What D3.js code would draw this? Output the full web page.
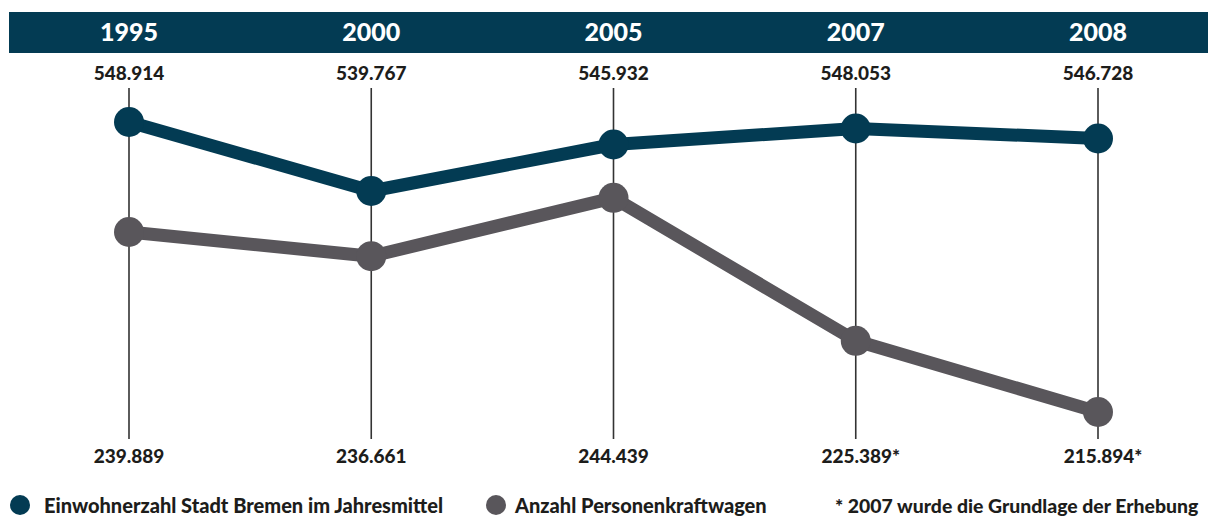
<!DOCTYPE html>
<html>
<head>
<meta charset="utf-8">
<script src="https://cdnjs.cloudflare.com/ajax/libs/d3/7.8.5/d3.min.js"></script>
<style>
  body { margin: 0; background: #fff; }
  svg { display: block; font-family: Lato, "Noto Sans", sans-serif; }
</style>
</head>
<body>
<svg id="chart" width="1208" height="518"></svg>
<script>
  // data
  const years = ["1995", "2000", "2005", "2007", "2008"];
  const einwohner = [548914, 539767, 545932, 548053, 546728];
  const pkw = [239889, 236661, 244439, 225389, 215894];
  const pkwMark = ["", "", "", "*", "*"];
  const legendLabels = ["Einwohnerzahl Stadt Bremen im Jahresmittel", "Anzahl Personenkraftwagen"];
  const footnote = "* 2007 wurde die Grundlage der Erhebung";

  const teal = "#033b53", grey = "#59565b", ink = "#1d1d1b";
  const fmt = v => d3.format(",")(v).replace(/,/g, ".");

  const svg = d3.select("#chart");

  const x = d3.scalePoint().domain(years).range([129, 1098]);
  // both series share roughly the same px per inhabitant/car, shifted apart
  const yPop = d3.scaleLinear().domain([548914, 539767]).range([122, 191]);
  const yCar = d3.scaleLinear().domain([239889, 215894]).range([232, 412]);

  // header band
  svg.append("rect").attr("x", 9).attr("y", 12).attr("width", 1199).attr("height", 41).attr("fill", teal);
  svg.selectAll("text.year").data(years).join("text")
    .attr("class", "year")
    .attr("x", d => x(d)).attr("y", 41)
    .attr("text-anchor", "middle")
    .attr("fill", "#fff").attr("font-size", 25).attr("font-weight", 900)
    .text(d => d);

  // vertical guides
  svg.selectAll("line.guide").data(years).join("line")
    .attr("class", "guide")
    .attr("x1", d => x(d)).attr("x2", d => x(d))
    .attr("y1", 88).attr("y2", 439)
    .attr("stroke", "#333").attr("stroke-width", 1.6);

  // value labels
  svg.selectAll("text.top").data(einwohner).join("text")
    .attr("class", "top")
    .attr("x", (d, i) => x(years[i])).attr("y", 80)
    .attr("text-anchor", "middle").attr("fill", ink)
    .attr("font-size", 19).attr("font-weight", 900)
    .text(d => fmt(d));

  svg.selectAll("text.bottom").data(pkw).join("text")
    .attr("class", "bottom")
    .attr("x", (d, i) => x(years[i]) + (pkwMark[i] ? 5 : 0)).attr("y", 463)
    .attr("text-anchor", "middle").attr("fill", ink)
    .attr("font-size", 19).attr("font-weight", 900)
    .text((d, i) => fmt(d) + pkwMark[i]);

  // lines
  const series = [
    { values: pkw, y: yCar, color: grey },
    { values: einwohner, y: yPop, color: teal }
  ];
  series.forEach(s => {
    const line = d3.line().x((d, i) => x(years[i])).y(d => s.y(d));
    svg.append("path").datum(s.values)
      .attr("d", line).attr("fill", "none")
      .attr("stroke", s.color).attr("stroke-width", 13)
      .attr("stroke-linejoin", "round");
    svg.selectAll(null).data(s.values).join("circle")
      .attr("cx", (d, i) => x(years[i])).attr("cy", d => s.y(d))
      .attr("r", 15).attr("fill", s.color);
  });

  // legend
  const lg = svg.append("g").attr("font-size", 20).attr("font-weight", 900).attr("fill", ink);
  lg.append("circle").attr("cx", 20).attr("cy", 505).attr("r", 10).attr("fill", teal);
  lg.append("text").attr("x", 44).attr("y", 513).text(legendLabels[0]);
  lg.append("circle").attr("cx", 496).attr("cy", 505).attr("r", 10).attr("fill", grey);
  lg.append("text").attr("x", 515).attr("y", 513).text(legendLabels[1]);
  lg.append("text").attr("x", 835).attr("y", 513).attr("font-size", 19.4).text(footnote);
</script>
</body>
</html>
